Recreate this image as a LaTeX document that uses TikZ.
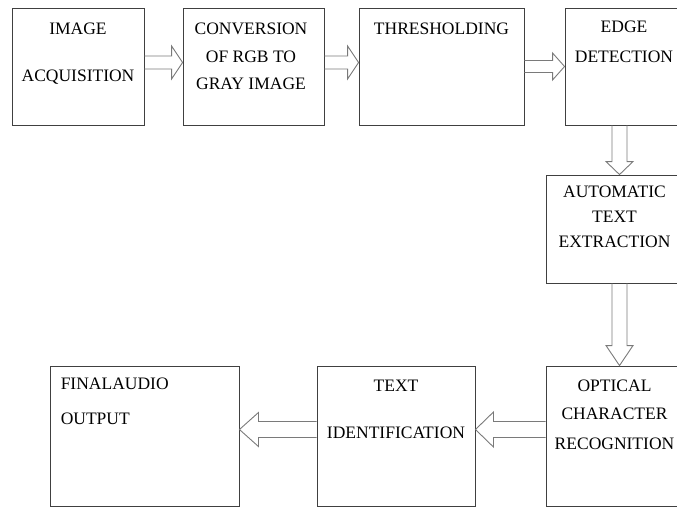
\documentclass[tikz,border=0pt]{standalone}
\usepackage{fontspec}
\setmainfont{Liberation Serif}
\usetikzlibrary{calc,positioning}
\definecolor{boxLine}{HTML}{404040}
\definecolor{arrowLine}{HTML}{7A7A7A}
\tikzset{
  stage/.style 2 args={draw=boxLine, line width=0.9pt, inner sep=0pt,
    minimum width=#1pt, minimum height=#2pt},
  caption/.style={align=center, inner sep=0pt,
    font=\fontsize{17.5}{25}\selectfont},
  fatarrow/.style n args={3}{draw=arrowLine, line width=0.9pt, line join=miter,
    to path={let \p1=(\tikztostart), \p2=(\tikztotarget),
      \p3=($(\p2)!#3pt!(\p1)$) in
      ($(\p1)!#1pt!90:(\p2)$) -- ($(\p3)!#1pt!90:(\p2)$)
      -- ($(\p3)!#2pt!90:(\p2)$) -- (\p2)
      -- ($(\p3)!#2pt!-90:(\p2)$) -- ($(\p3)!#1pt!-90:(\p2)$)
      -- ($(\p1)!#1pt!-90:(\p2)$)}}
}
\begin{document}
\begin{tikzpicture}[x=1pt, y=-1pt]
  \useasboundingbox (0,0) rectangle (677,507);
  \clip (0,0) rectangle (677,507);
  % top row
  \node[stage={132}{117}] (acq) at (78,66.5) {};
  \node[stage={141}{117}] (conv) at (253.5,66.5) {};
  \node[stage={165}{117}] (thr) at (441.5,66.5) {};
  \node[stage={118}{117}] (edge) at (624,66.5) {};
  \node[caption, below=15.5pt of acq.north] (acq-t) {IMAGE\\[22pt]ACQUISITION};
  \node[caption, below=15.5pt of conv.north, xshift=-2.5pt] (conv-t) {CONVERSION\\[3pt]OF RGB TO\\[2pt]GRAY IMAGE};
  \node[caption, below=15.5pt of thr.north] (thr-t) {THRESHOLDING};
  \node[caption, below=13.5pt of edge.north] (edge-t) {EDGE\\[5pt]DETECTION};
  % right column
  \node[stage={137}{108}] (autotext) at (614.5,229) {};
  \node[caption, below=11.5pt of autotext.north] (autotext-t) {AUTOMATIC\\TEXT\\EXTRACTION};
  % bottom row
  \node[stage={137}{140}] (ocr) at (614.5,436) {};
  \node[stage={158}{140}] (textid) at (396,436) {};
  \node[stage={189}{140}] (final) at (144.5,436) {};
  \node[caption, below=14.5pt of ocr.north] (ocr-t) {OPTICAL\\[3pt]CHARACTER\\[5pt]RECOGNITION};
  \node[caption, below=14.5pt of textid.north] (textid-t) {TEXT\\[22pt]IDENTIFICATION};
  \node[caption, align=left, below right=12.5pt and 11pt of final.north west] (final-t) {FINALAUDIO\\[10pt]OUTPUT};
  % arrows
  \draw[fatarrow={6.5}{16.5}{11}] ([yshift=4pt]acq.east) to ([yshift=4pt]conv.west);
  \draw[fatarrow={6.5}{16.5}{11}] ([yshift=4pt]conv.east) to ([yshift=4pt]thr.west);
  \draw[fatarrow={6}{13.5}{12}] (thr.east) to (edge.west);
  \draw[fatarrow={7.5}{13.5}{13}] ([xshift=-4.5pt]edge.south) to ([xshift=5pt]autotext.north);
  \draw[fatarrow={7.5}{13.5}{20}] ([xshift=5pt]autotext.south) to ([xshift=5pt]ocr.north);
  \draw[fatarrow={8}{17.5}{18}] ([yshift=6.5pt]ocr.west) to ([yshift=6.5pt]textid.east);
  \draw[fatarrow={8}{17}{19}] ([yshift=6.5pt]textid.west) to ([yshift=6.5pt]final.east);
\end{tikzpicture}
\end{document}
